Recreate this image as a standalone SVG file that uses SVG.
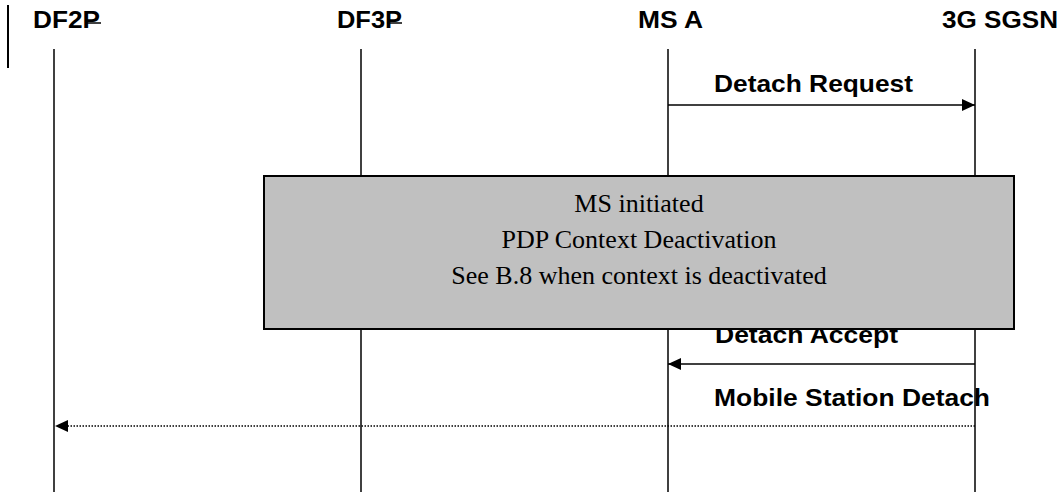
<svg xmlns="http://www.w3.org/2000/svg" width="1061" height="494" viewBox="0 0 1061 494">
<style>
.hdr{font-family:"Liberation Sans",Arial,sans-serif;font-weight:bold;font-size:24px;fill:#000}
.msg{font-family:"Liberation Sans",Arial,sans-serif;font-weight:bold;font-size:24px;fill:#000}
.box{font-family:"Liberation Serif","Times New Roman",serif;font-size:26px;fill:#000}
.life{stroke:#000;stroke-width:1.5}
.arrow{stroke:#000;stroke-width:1.5;fill:none}
.dotted{stroke:#000;stroke-width:1.3;stroke-dasharray:1.5 1.5;fill:none}
.strike{stroke:#000;stroke-width:1.5}
</style>
<defs>
<marker id="ah" markerUnits="userSpaceOnUse" markerWidth="14" markerHeight="12" refX="13" refY="6" orient="auto">
<path d="M0,0 L13,6 L0,12 Z" fill="#000"/>
</marker>
</defs>
<rect width="1061" height="494" fill="#fff"/>
<line x1="8" y1="5" x2="8" y2="68" stroke="#000" stroke-width="2"/>
<g id="node-df2p">
<text class="hdr" x="33" y="28" textLength="67" lengthAdjust="spacingAndGlyphs">DF2P</text>
<line class="strike" x1="86" y1="23" x2="101" y2="23"/>
<line class="life" x1="54" y1="49" x2="54" y2="492"/>
</g>
<g id="node-df3p">
<text class="hdr" x="337" y="28" textLength="65" lengthAdjust="spacingAndGlyphs">DF3P</text>
<line class="strike" x1="387" y1="23" x2="402" y2="23"/>
<line class="life" x1="361" y1="49" x2="361" y2="492"/>
</g>
<g id="node-msa">
<text class="hdr" x="638" y="28" textLength="65" lengthAdjust="spacingAndGlyphs">MS A</text>
<line class="life" x1="668" y1="49" x2="668" y2="492"/>
</g>
<g id="node-sgsn">
<text class="hdr" x="942" y="28" textLength="116" lengthAdjust="spacingAndGlyphs">3G SGSN</text>
<line class="life" x1="975" y1="49" x2="975" y2="492"/>
</g>
<g id="connectors">
<text class="msg" x="714" y="92" textLength="199" lengthAdjust="spacingAndGlyphs">Detach Request</text>
<line class="arrow" x1="668" y1="105" x2="975" y2="105" marker-end="url(#ah)"/>
<text class="msg" x="715" y="343" textLength="183" lengthAdjust="spacingAndGlyphs">Detach Accept</text>
<line class="arrow" x1="975" y1="364" x2="668" y2="364" marker-end="url(#ah)"/>
<text class="msg" x="714" y="406" textLength="276" lengthAdjust="spacingAndGlyphs">Mobile Station Detach</text>
<line class="dotted" x1="975" y1="426" x2="68" y2="426"/>
<path d="M55,426 L68,420 L68,432 Z" fill="#000"/>
</g>
<g id="node-pdp-box">
<rect x="264" y="176" width="750" height="153" fill="#c0c0c0" stroke="#000" stroke-width="2"/>
<text class="box" x="639" y="212" text-anchor="middle">MS initiated</text>
<text class="box" x="639" y="248" text-anchor="middle">PDP Context Deactivation</text>
<text class="box" x="639" y="284" text-anchor="middle">See B.8 when context is deactivated</text>
</g>
</svg>
